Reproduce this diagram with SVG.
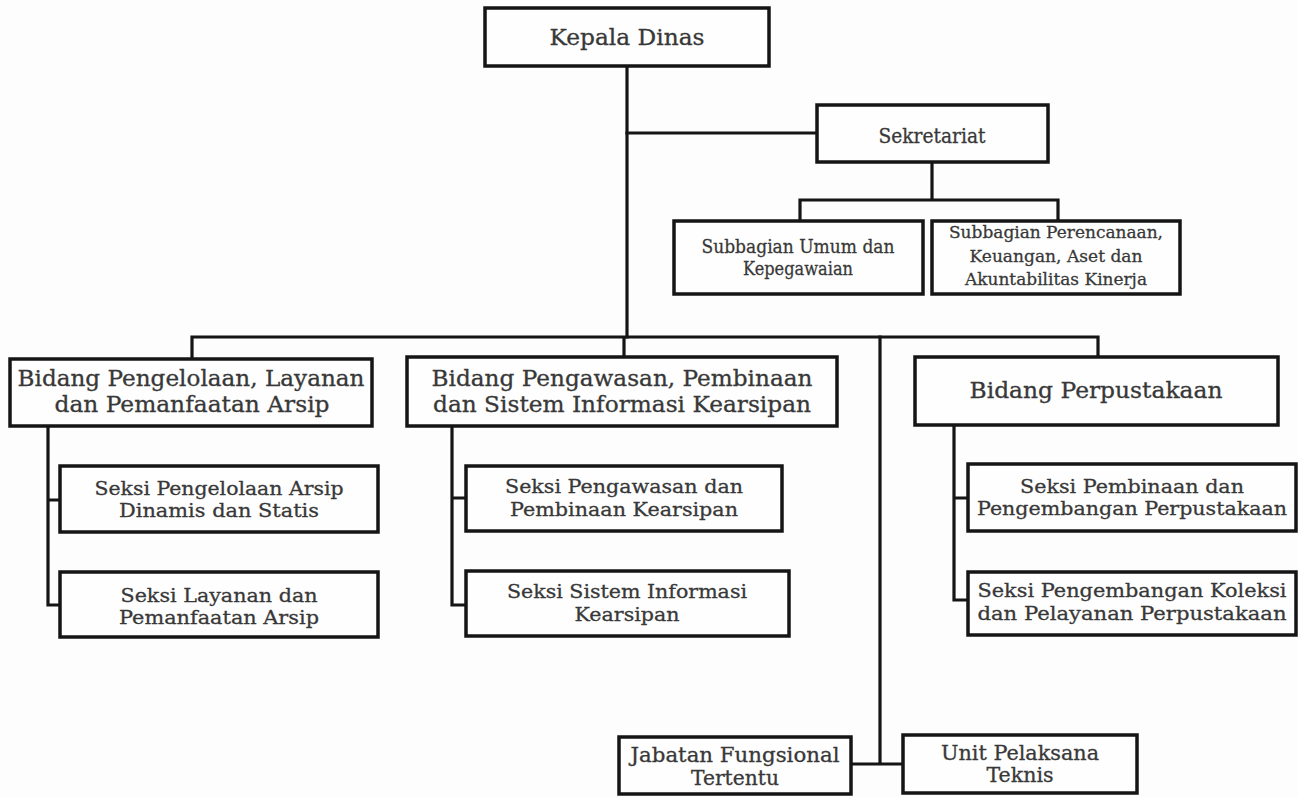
<svg xmlns="http://www.w3.org/2000/svg" width="1298" height="797" viewBox="0 0 1298 797">
<style>
.box{fill:#fefefe;stroke:#151515;stroke-width:3.5}
.ln{fill:none;stroke:#151515;stroke-width:3.2;stroke-linecap:square}
text{font-family:"DejaVu Serif","Liberation Serif",serif;fill:#383838;stroke:#383838;stroke-width:0.3;text-anchor:middle}
.t22{font-size:22px}.t19{font-size:19.5px}.t18{font-size:19px}.t17{font-size:17.5px}
</style>
<rect width="1298" height="797" fill="#fdfdfd"/>
<g id="connectors">
<path class="ln" d="M627 66 V337"/>
<path class="ln" d="M627 133 H817"/>
<path class="ln" d="M932 162 V200 M800 200 H1058 M800 200 V221 M1058 200 V221"/>
<path class="ln" d="M192 337 H1098 M192 337 V358 M624 337 V357 M1098 337 V357"/>
<path class="ln" d="M880 337 V764 M851 764 H903"/>
<path class="ln" d="M48 426 V605 M48 500 H60 M48 605 H60"/>
<path class="ln" d="M452 426 V605 M452 498 H466 M452 605 H466"/>
<path class="ln" d="M954 425 V600 M954 498 H968 M954 600 H968"/>
</g>
<g id="kepala-dinas"><rect class="box" x="485" y="8" width="284" height="58"/><text class="t22" x="627" y="45" textLength="155" lengthAdjust="spacingAndGlyphs">Kepala Dinas</text></g>
<g id="sekretariat"><rect class="box" x="817" y="105" width="231" height="57"/><text class="t19" x="932" y="143" textLength="107" lengthAdjust="spacingAndGlyphs">Sekretariat</text></g>
<g id="subbag-umum"><rect class="box" x="674" y="221" width="249" height="73"/><text class="t18" x="798" y="253" textLength="193" lengthAdjust="spacingAndGlyphs">Subbagian Umum dan</text><text class="t18" x="798" y="275" textLength="110" lengthAdjust="spacingAndGlyphs">Kepegawaian</text></g>
<g id="subbag-perencanaan"><rect class="box" x="932" y="221" width="248" height="73"/><text class="t17" x="1056" y="238" textLength="214" lengthAdjust="spacingAndGlyphs">Subbagian Perencanaan,</text><text class="t17" x="1056" y="262" textLength="173" lengthAdjust="spacingAndGlyphs">Keuangan, Aset dan</text><text class="t17" x="1056" y="285" textLength="182" lengthAdjust="spacingAndGlyphs">Akuntabilitas Kinerja</text></g>
<g id="bidang-pengelolaan"><rect class="box" x="10" y="359" width="362" height="67"/><text class="t22" x="191" y="386" textLength="347" lengthAdjust="spacingAndGlyphs">Bidang Pengelolaan, Layanan</text><text class="t22" x="192" y="412" textLength="275" lengthAdjust="spacingAndGlyphs">dan Pemanfaatan Arsip</text></g>
<g id="bidang-pengawasan"><rect class="box" x="407" y="357" width="430" height="69"/><text class="t22" x="622" y="386" textLength="381" lengthAdjust="spacingAndGlyphs">Bidang Pengawasan, Pembinaan</text><text class="t22" x="622" y="412" textLength="378" lengthAdjust="spacingAndGlyphs">dan Sistem Informasi Kearsipan</text></g>
<g id="bidang-perpustakaan"><rect class="box" x="915" y="357" width="363" height="68"/><text class="t22" x="1096" y="398" textLength="253" lengthAdjust="spacingAndGlyphs">Bidang Perpustakaan</text></g>
<g id="seksi-pengelolaan"><rect class="box" x="60" y="466" width="318" height="66"/><text class="t18" x="219" y="495" textLength="249" lengthAdjust="spacingAndGlyphs">Seksi Pengelolaan Arsip</text><text class="t18" x="219" y="517" textLength="200" lengthAdjust="spacingAndGlyphs">Dinamis dan Statis</text></g>
<g id="seksi-layanan"><rect class="box" x="60" y="572" width="318" height="65"/><text class="t18" x="219" y="602" textLength="197" lengthAdjust="spacingAndGlyphs">Seksi Layanan dan</text><text class="t18" x="219" y="624" textLength="200" lengthAdjust="spacingAndGlyphs">Pemanfaatan Arsip</text></g>
<g id="seksi-pengawasan"><rect class="box" x="466" y="466" width="316" height="65"/><text class="t18" x="624" y="493" textLength="238" lengthAdjust="spacingAndGlyphs">Seksi Pengawasan dan</text><text class="t18" x="624" y="516" textLength="228" lengthAdjust="spacingAndGlyphs">Pembinaan Kearsipan</text></g>
<g id="seksi-sistem-informasi"><rect class="box" x="466" y="571" width="323" height="65"/><text class="t18" x="627" y="598" textLength="240" lengthAdjust="spacingAndGlyphs">Seksi Sistem Informasi</text><text class="t18" x="627" y="621" textLength="105" lengthAdjust="spacingAndGlyphs">Kearsipan</text></g>
<g id="seksi-pembinaan-perpustakaan"><rect class="box" x="968" y="464" width="328" height="67"/><text class="t18" x="1132" y="493" textLength="224" lengthAdjust="spacingAndGlyphs">Seksi Pembinaan dan</text><text class="t18" x="1132" y="515" textLength="310" lengthAdjust="spacingAndGlyphs">Pengembangan Perpustakaan</text></g>
<g id="seksi-pengembangan-koleksi"><rect class="box" x="968" y="572" width="328" height="63"/><text class="t18" x="1132" y="597" textLength="309" lengthAdjust="spacingAndGlyphs">Seksi Pengembangan Koleksi</text><text class="t18" x="1132" y="620" textLength="309" lengthAdjust="spacingAndGlyphs">dan Pelayanan Perpustakaan</text></g>
<g id="jabatan-fungsional"><rect class="box" x="619" y="737" width="232" height="57"/><text class="t19" x="735" y="762" textLength="209" lengthAdjust="spacingAndGlyphs">Jabatan Fungsional</text><text class="t19" x="735" y="785" textLength="88" lengthAdjust="spacingAndGlyphs">Tertentu</text></g>
<g id="unit-pelaksana-teknis"><rect class="box" x="903" y="735" width="234" height="58"/><text class="t19" x="1020" y="760" textLength="158" lengthAdjust="spacingAndGlyphs">Unit Pelaksana</text><text class="t19" x="1020" y="782" textLength="67" lengthAdjust="spacingAndGlyphs">Teknis</text></g>
</svg>
